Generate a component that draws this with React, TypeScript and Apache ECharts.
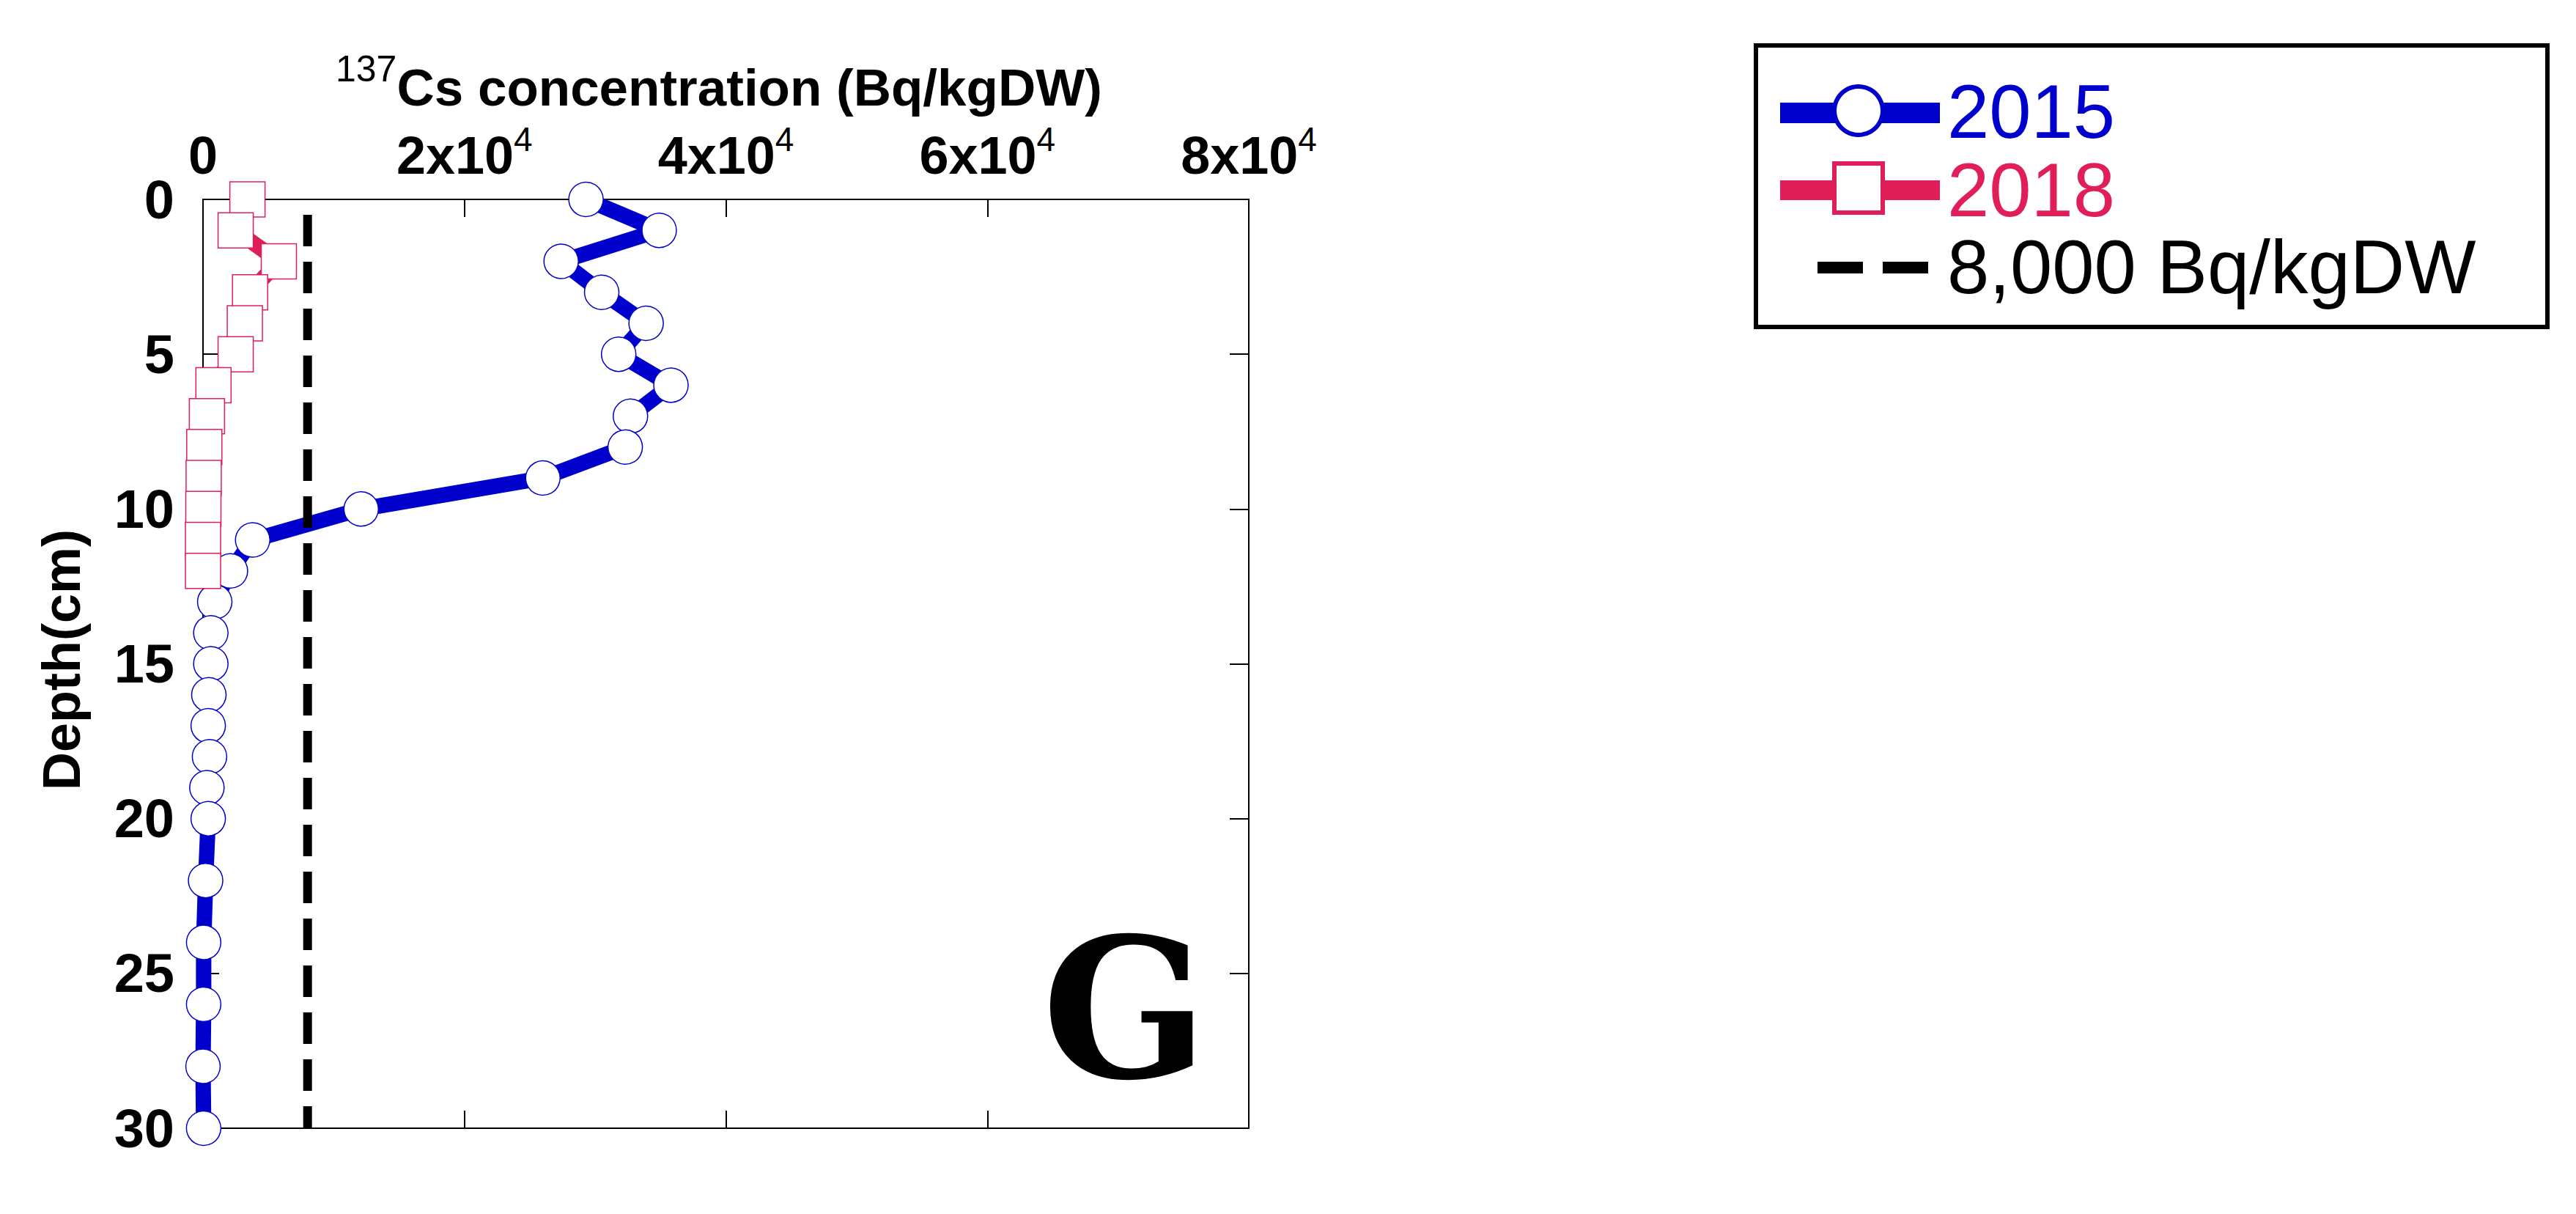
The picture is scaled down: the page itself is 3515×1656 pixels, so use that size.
import React, { useEffect, useRef } from "react";
import * as echarts from "echarts";

// ---- data ----
const depth2015 = [0, 1, 2, 3, 4, 5, 6, 7, 8, 9, 10, 11, 12, 13, 14, 15, 16, 17, 18, 19, 20, 22, 24, 26, 28, 30];
const cs2015 = [29300, 34900, 27400, 30500, 33900, 31800, 35800, 32700, 32300, 26000, 12100, 3800, 2100, 900, 600, 600, 450, 400, 500, 300, 400, 200, 50, 50, 0, 50];
const depth2018 = [0, 1, 2, 3, 4, 5, 6, 7, 8, 9, 10, 11, 12];
const cs2018 = [3400, 2500, 5800, 3600, 3200, 2500, 800, 300, 100, 50, 30, 0, 0];
const refValue = 8000;
const refDepths = [0, 30];
const seriesNames = ["2015", "2018", "8,000 Bq/kgDW"];
const xTickValues = [0, 20000, 40000, 60000, 80000];
const xTickMantissa = ["0", "2x10", "4x10", "6x10", "8x10"];
const xTickExponent = ["", "4", "4", "4", "4"];
const yTickInterval = 5;
const titleSup = "137";
const titleMain = "Cs concentration (Bq/kgDW)";
const yName = "Depth(cm)";
const panelLabel = "G";

const FONT = "'Liberation Sans', Arial, Helvetica, sans-serif";
const BLUE = "#0000CC";
const PINK = "#E01E5A";

export default function App() {
  const ref = useRef<HTMLDivElement>(null);

  useEffect(() => {
    if (!ref.current) return;
    const chart = echarts.init(ref.current, null, { renderer: "svg" });

    const axisLine = { show: true, onZero: false, lineStyle: { color: "#000", width: 2 } };

    const option: any = {
      animation: false,
      backgroundColor: "#ffffff",
      grid: { left: 277, top: 272, width: 1427, height: 1267, containLabel: false },
      xAxis: [
        {
          type: "value",
          position: "top",
          min: 0,
          max: 80000,
          interval: 20000,
          axisLine,
          axisTick: { show: true, inside: true, length: 24, lineStyle: { color: "#000", width: 2 } },
          splitLine: { show: false },
          axisLabel: {
            show: true,
            margin: 15,
            showMinLabel: true,
            showMaxLabel: true,
            formatter: (v: number) => {
              const i = xTickValues.indexOf(v);
              if (i < 0) return "";
              return xTickExponent[i]
                ? `{b|${xTickMantissa[i]}}{s|${xTickExponent[i]}}`
                : `{b|${xTickMantissa[i]}}`;
            },
            rich: {
              b: { fontFamily: FONT, fontSize: 72, fontWeight: "bold", color: "#000", lineHeight: 90, verticalAlign: "middle" },
              s: { fontFamily: FONT, fontSize: 46, fontWeight: "normal", color: "#000", lineHeight: 40, verticalAlign: "top" },
            },
          },
        },
        {
          type: "value",
          position: "bottom",
          min: 0,
          max: 80000,
          interval: 20000,
          axisLine,
          axisTick: { show: true, inside: true, length: 24, lineStyle: { color: "#000", width: 2 } },
          splitLine: { show: false },
          axisLabel: { show: false },
        },
      ],
      yAxis: [
        {
          type: "value",
          inverse: true,
          position: "left",
          min: 0,
          max: 30,
          interval: yTickInterval,
          axisLine,
          axisTick: { show: true, inside: true, length: 22, lineStyle: { color: "#000", width: 2 } },
          splitLine: { show: false },
          axisLabel: { show: true, margin: 39, fontFamily: FONT, fontSize: 74, fontWeight: "bold", color: "#000" },
        },
        {
          type: "value",
          inverse: true,
          position: "right",
          min: 0,
          max: 30,
          interval: yTickInterval,
          axisLine,
          axisTick: { show: true, inside: true, length: 26, lineStyle: { color: "#000", width: 2 } },
          splitLine: { show: false },
          axisLabel: { show: false },
        },
      ],
      series: [
        {
          name: seriesNames[0],
          type: "line",
          xAxisIndex: 0,
          yAxisIndex: 0,
          z: 2,
          clip: false,
          data: cs2015.map((v, i) => [v, depth2015[i]]),
          symbol: "circle",
          symbolSize: 47,
          lineStyle: { color: BLUE, width: 21 },
          itemStyle: { color: "#ffffff", borderColor: BLUE, borderWidth: 1.5 },
        },
        {
          name: seriesNames[2],
          type: "line",
          xAxisIndex: 0,
          yAxisIndex: 0,
          z: 3,
          clip: false,
          data: refDepths.map((d) => [refValue, d]),
          symbol: "none",
          lineStyle: { color: "#000", width: 12, type: [43, 21], dashOffset: 43, cap: "butt" },
        },
        {
          name: seriesNames[1],
          type: "line",
          xAxisIndex: 0,
          yAxisIndex: 0,
          z: 4,
          clip: false,
          data: cs2018.map((v, i) => [v, depth2018[i]]),
          symbol: "rect",
          symbolSize: 48,
          lineStyle: { color: PINK, width: 21 },
          itemStyle: { color: "#ffffff", borderColor: PINK, borderWidth: 1.5 },
        },
      ],
      graphic: [
        {
          type: "text",
          x: 458,
          y: 119,
          style: {
            text: `{sup|${titleSup}}{main|${titleMain}}`,
            align: "left",
            verticalAlign: "middle",
            textAlign: "left",
            textVerticalAlign: "middle",
            rich: {
              sup: { fontFamily: FONT, fontSize: 50, fontWeight: "normal", fill: "#000", color: "#000", lineHeight: 48, verticalAlign: "top" },
              main: { fontFamily: FONT, fontSize: 71, fontWeight: "bold", fill: "#000", color: "#000", lineHeight: 100, verticalAlign: "middle" },
            },
          },
        },
        {
          type: "text",
          x: 84,
          y: 900,
          rotation: Math.PI / 2,
          style: {
            text: yName,
            fontFamily: FONT,
            fontSize: 72,
            fontWeight: "bold",
            fill: "#000",
            align: "center",
            verticalAlign: "middle",
            textAlign: "center",
            textVerticalAlign: "middle",
          },
        },
        {
          type: "text",
          x: 1535,
          y: 1376,
          style: {
            text: panelLabel,
            fontFamily: "'DejaVu Serif', 'Liberation Serif', serif",
            fontSize: 265,
            fontWeight: "bold",
            fill: "#000",
            align: "center",
            verticalAlign: "middle",
            textAlign: "center",
            textVerticalAlign: "middle",
          },
        },
        // legend box
        {
          type: "rect",
          shape: { x: 2396, y: 62, width: 1080, height: 384 },
          style: { fill: "none", stroke: "#000", lineWidth: 6 },
        },
        { type: "rect", shape: { x: 2429, y: 140, width: 218, height: 28 }, style: { fill: BLUE } },
        { type: "circle", shape: { cx: 2536, cy: 151, r: 33 }, style: { fill: "#fff", stroke: BLUE, lineWidth: 6 } },
        {
          type: "text",
          x: 2657,
          y: 152,
          style: { text: seriesNames[0], fontFamily: FONT, fontSize: 103, fill: BLUE, align: "left", verticalAlign: "middle", textAlign: "left", textVerticalAlign: "middle" },
        },
        { type: "rect", shape: { x: 2429, y: 246, width: 218, height: 27 }, style: { fill: PINK } },
        { type: "rect", shape: { x: 2503, y: 223, width: 66, height: 67 }, style: { fill: "#fff", stroke: PINK, lineWidth: 6 } },
        {
          type: "text",
          x: 2657,
          y: 259,
          style: { text: seriesNames[1], fontFamily: FONT, fontSize: 103, fill: PINK, align: "left", verticalAlign: "middle", textAlign: "left", textVerticalAlign: "middle" },
        },
        { type: "rect", shape: { x: 2480, y: 357, width: 62, height: 16 }, style: { fill: "#000" } },
        { type: "rect", shape: { x: 2569, y: 357, width: 62, height: 16 }, style: { fill: "#000" } },
        {
          type: "text",
          x: 2657,
          y: 364,
          style: { text: seriesNames[2], fontFamily: FONT, fontSize: 103, fill: "#000", align: "left", verticalAlign: "middle", textAlign: "left", textVerticalAlign: "middle" },
        },
      ],
    };

    chart.setOption(option);
    return () => {
      chart.dispose();
    };
  }, []);

  return (
    <div
      ref={ref}
      style={{ position: "absolute", left: 0, top: 0, width: 3515, height: 1656, background: "#fff" }}
    />
  );
}
